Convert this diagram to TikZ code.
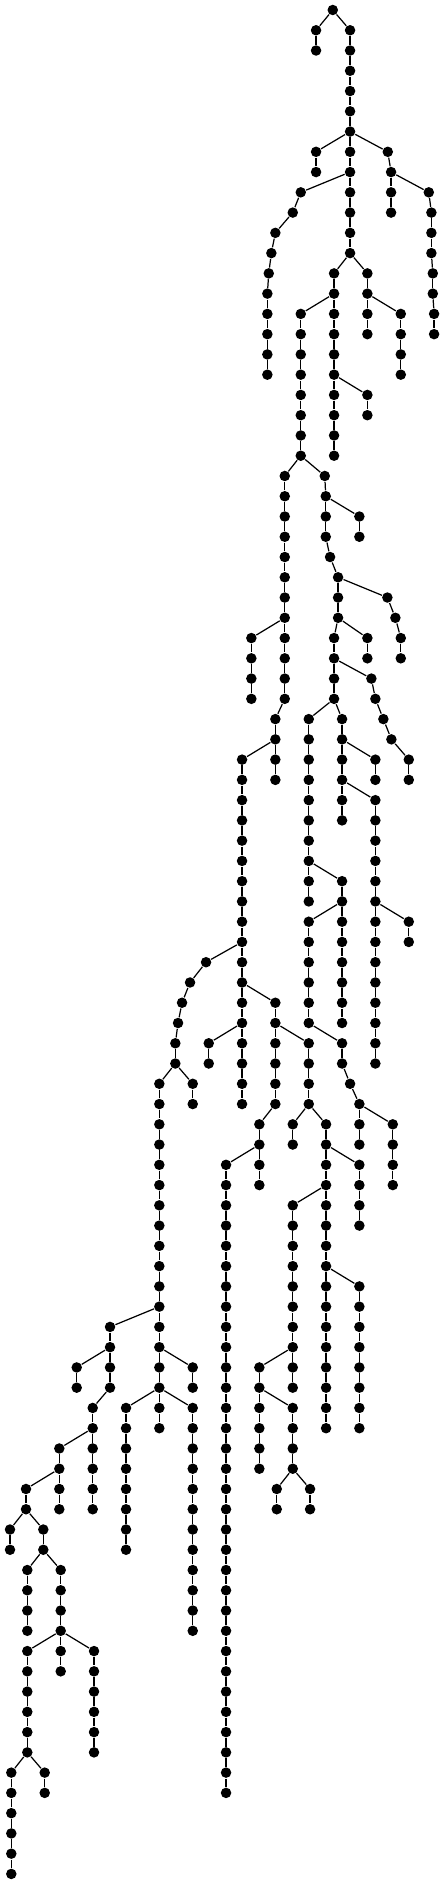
\documentclass[tikz,border=0pt]{standalone}

\begin{document}
\begin{tikzpicture}[x=0.02cm, y=-0.4052cm, line width=0.7pt,
    dot/.style={circle, fill=black, inner sep=0pt, minimum size=0.21cm}]
  \useasboundingbox (0,-0.4936) rectangle (444,92.547);
  \node[dot] (r-0) at (332.7,0) {};
  \foreach \cn/\pn/\fl/\xs in {
      A/r-0/1/{316,316},
      B/r-0/1/{350,350,350,350,350,350,350,350,350,350,350,350},
      C/B-6/7/{316,316},
      D/B-6/7/{387.7,391,391,391},
      E/D-8/9/{428.7,431.3,431.3,431.3,432.7,432.7,434,434},
      F/B-8/9/{300.7,292.7,275.3,271.3,268.7,267.3,267.3,267.3,267.3,267.3},
      G/B-12/13/{334,334,334,334,334,334,334,334,334,334},
      H/B-12/13/{367.3,367.3,367.3,367.3},
      I/H-14/15/{400.7,400.7,400.7,400.7},
      J/G-14/15/{300.7,300.7,300.7,300.7,300.7,300.7,300.7,300.7},
      K/G-18/19/{367.3,367.3},
      L/J-22/23/{284.7,284.7,284.7,284.7,284.7,284.7,284.7,284.7,284.7,284.7,284.7,284.7,275.3,275.3,275.3,275.3},
      M/J-22/23/{324.7,325.7,325.7,325.7,330,338,338,338,334,334,334,334},
      N/M-24/25/{359.3,359.3},
      O/M-28/29/{387.3,395.3,400.7,400.7},
      P/M-30/31/{367.3,367.3},
      Q/M-32/33/{371.3,375.3,383.3,391.3,408.7,408.7},
      S/L-30/31/{251.3,251.3,251.3,251.3},
      T/L-36/37/{242,242,242,242,242,242,242,242,242,242,242,242,242,242,242,242,242,242},
      U/T-46/47/{206,190,182,178,175.3,175.3},
      V/U-52/53/{159.3,159.3,159.3,159.3,159.3,159.3,159.3,159.3,159.3,159.3,159.3,159.3,159.3,159.3,159.3,159.3,159.3,159.3},
      W/U-52/53/{192.7,192.7},
      X/T-48/49/{275.3,275.3,275.3,275.3,275.3,275.3,259.3,259.3,259.3,259.3},
      Y/T-50/51/{208.7,208.7},
      Z/X-50/51/{308.7,308.7,308.7,308.7},
      AA/Z-54/55/{292.7,292.7},
      AB/Z-54/55/{326,326,326,326,326,326,326,326,326,326,326,326,326,326,326,326},
      AC/AB-56/57/{359.3,359.3,359.3,359.3},
      AD/AB-58/59/{292.7,292.7,292.7,292.7,292.7,292.7,292.7,292.7},
      AE/AB-62/63/{359.3,359.3,359.3,359.3,359.3,359.3,359.3,359.3},
      AF/AD-66/67/{292.7,292.7},
      AG/AD-66/67/{259.3,259.3,259.3,259.3,259.3,259.3},
      AH/AG-68/69/{292.7,292.7,292.7,292.7},
      AI/AH-72/73/{276.7,276.7},
      AJ/AH-72/73/{310,310},
      AK/X-56/57/{226,226,226,226,226,226,226,226,226,226,226,226,226,226,226,226,226,226,226,226,226,226,226,226,226,226,226,226,226,226,226,226},
      AL/M-34/35/{308.7,308.7,308.7,308.7,308.7,308.7,308.7,308.7,308.7,308.7},
      AM/M-34/35/{342,342,342,342,342,342},
      AN/AM-36/37/{375.3,375.3},
      AO/AM-38/39/{375.3,375.3,375.3,375.3,375.3,375.3,375.3,375.3,375.3,375.3,375.3,375.3,375.3,375.3},
      AP/AO-44/45/{408.7,408.7},
      AQ/AL-42/43/{342,342,342,342,342,342,342,342},
      AR/AQ-44/45/{308.7,308.7,308.7,308.7,308.7,308.7},
      AS/AR-50/51/{342,342,350,359.3,359.3,359.3},
      AT/AS-54/55/{392.7,392.7,392.7,392.7},
      AU/V-64/65/{110,110,110,110},
      AV/AU-66/67/{76.7,76.7},
      AW/AU-68/69/{92.7,92.7,92.7,92.7,92.7,92.7},
      AX/AW-70/71/{59.3,59.3,59.3,59.3},
      AY/AX-72/73/{26,26},
      AZ/AY-74/75/{10,10},
      BA/AY-74/75/{43.3,43.3},
      BB/BA-76/77/{27.3,27.3,27.3,27.3},
      BC/BA-76/77/{60.7,60.7,60.7,60.7,60.7,60.7},
      BD/BC-80/81/{27.3,27.3,27.3,27.3,27.3,27.3},
      BE/BC-80/81/{94,94,94,94,94,94},
      BF/BD-86/87/{11.3,11.3,11.3,11.3,11.3,11.3},
      BG/BD-86/87/{44.7,44.7},
      BH/V-66/67/{192.7,192.7},
      BI/V-68/69/{126,126,126,126,126,126,126,126},
      BJ/V-68/69/{192.7,192.7,192.7,192.7,192.7,192.7,192.7,192.7,192.7,192.7,192.7,192.7}}{
    \foreach \x [count=\k from 0] in \xs {
      \pgfmathtruncatemacro\lv{\fl+\k}
      \pgfmathtruncatemacro\pv{\lv-1}
      \node[dot] (\cn-\lv) at (\x,\lv) {};
      \ifnum\k=0 \draw (\pn) -- (\cn-\lv); \else \draw (\cn-\pv) -- (\cn-\lv); \fi
    }
  }
\end{tikzpicture}
\end{document}
